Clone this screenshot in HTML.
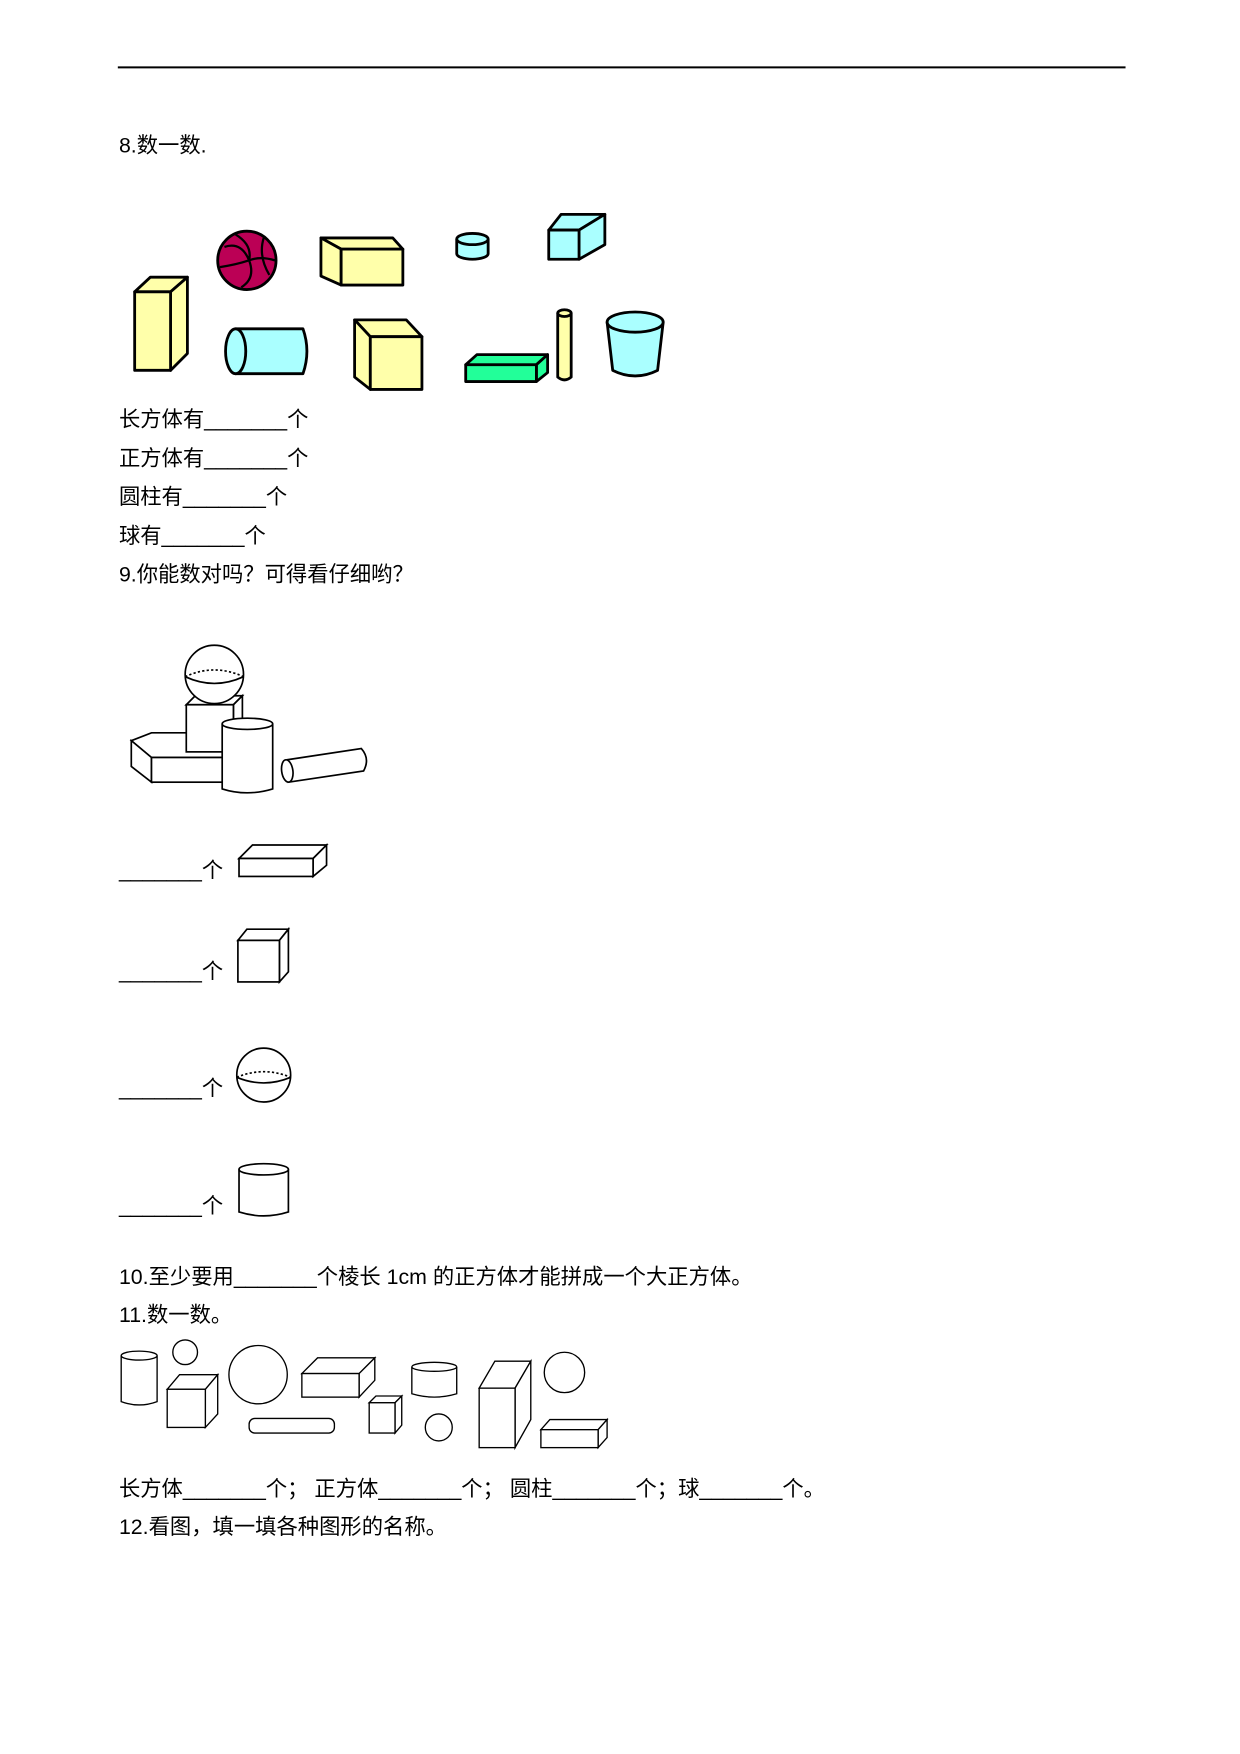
<!DOCTYPE html>
<html><head><meta charset="utf-8"><style>
html,body{margin:0;padding:0;background:#fff;}
svg{display:block;}
text{font-family:"Liberation Sans","Noto Sans CJK SC",sans-serif;font-size:19px;fill:#000;}
</style></head><body>
<svg width="1240" height="1754" viewBox="0 0 1105 1563" xmlns="http://www.w3.org/2000/svg">
<line x1="105" y1="60" x2="1003" y2="60" stroke="#000" stroke-width="1.8"/>
<text x="106" y="136">8.数一数.</text>

<g stroke="#000" stroke-width="2.5" stroke-linejoin="round">
<polygon points="120,260 134,247 167,247 152,260" fill="#ffffaa"/>
<polygon points="152,260 167,247 167,315 152,330" fill="#ffffaa"/>
<rect x="120" y="260" width="32" height="70" fill="#ffffaa"/>
<circle cx="220" cy="232" r="26" fill="#bb0055"/>
<g fill="none" stroke-width="2"><path d="M200,220 Q215,215 222,232 Q228,248 215,256"/><path d="M210,209 Q225,218 222,232"/><path d="M235,212 Q230,228 240,245"/><path d="M196,238 Q210,236 222,232 Q232,228 245,232"/></g>
<polygon points="286,212 350,212 359,222 304,222" fill="#ffffaa"/>
<polygon points="286,212 304,222 304,254 286,246" fill="#ffffaa"/>
<rect x="304" y="222" width="55" height="32" fill="#ffffaa"/>
<path d="M407,213 V226 A14,5 0 0 0 435,226 V213" fill="#aaffff"/>
<ellipse cx="421" cy="213" rx="14" ry="5" fill="#aaffff"/>
<polygon points="489,205 500,191 539,191 516,205" fill="#aaffff"/>
<polygon points="516,205 539,191 539,218 516,231" fill="#aaffff"/>
<rect x="489" y="205" width="27" height="26" fill="#aaffff"/>
<path d="M210,293 H270 Q277,313 270,333 H210 Z" fill="#aaffff"/>
<ellipse cx="210" cy="313" rx="9" ry="20" fill="#aaffff"/>
<polygon points="316,285 362,285 376,300 330,300" fill="#ffffaa"/>
<polygon points="316,285 330,300 330,347 316,336" fill="#ffffaa"/>
<rect x="330" y="300" width="46" height="47" fill="#ffffaa"/>
<polygon points="415,325 425,316 488,316 478,325" fill="#22ff99"/>
<polygon points="478,325 488,316 488,332 478,340" fill="#22ff99"/>
<rect x="415" y="325" width="63" height="15" fill="#22ff99"/>
<path d="M497,279 V336 Q503,341 509,336 V279" fill="#ffffaa"/>
<ellipse cx="503" cy="279" rx="6" ry="3" fill="#ffffaa"/>
<path d="M541,287 L546,330 Q566,340 586,330 L591,287" fill="#aaffff"/>
<ellipse cx="566" cy="287" rx="25" ry="9" fill="#aaffff"/>
</g>

<text x="106" y="380">长方体有_______个</text>
<text x="106" y="415">正方体有_______个</text>
<text x="106" y="449">圆柱有_______个</text>
<text x="106" y="484">球有_______个</text>
<text x="106" y="518">9.你能数对吗？可得看仔细哟？</text>

<g stroke="#000" stroke-width="1.5" fill="#fff">
<polygon points="117,660 135,653 200,653 200,675 135,675" />
<polygon points="117,660 135,675 135,697 117,683"/>
<rect x="135" y="675" width="65" height="22"/>
<polygon points="166,628 174,620 216,620 208,628"/>
<polygon points="208,628 216,620 216,660 208,668"/>
<rect x="166" y="628" width="42" height="42"/>
<circle cx="191" cy="601" r="26"/>
<path d="M165,603 Q191,615 217,603" fill="none"/>
<path d="M165,603 Q191,591 217,603" fill="none" stroke-dasharray="2,2"/>
<path d="M198,645 V703 Q220,710 243,703 V645" />
<ellipse cx="220.5" cy="645" rx="22.5" ry="5"/>
<path d="M256,677 L322,667 Q330,676 324,687 L257,697 Z"/>
<ellipse cx="256" cy="687" rx="5" ry="10" transform="rotate(-8 256 687)"/>
</g>

<text x="106" y="782">_______个</text>
<text x="106" y="872">_______个</text>
<text x="106" y="976">_______个</text>
<text x="106" y="1081">_______个</text>
<g stroke="#000" stroke-width="1.5" fill="#fff">
<polygon points="213,765 225,753 291,753 279,765"/>
<polygon points="279,765 291,753 291,771 279,781"/>
<rect x="213" y="765" width="66" height="16"/>
<polygon points="212,838 220,828 257,828 249,838"/>
<polygon points="249,838 257,828 257,866 249,875"/>
<rect x="212" y="838" width="37" height="37"/>
<circle cx="235" cy="958" r="24"/>
<path d="M211,960 Q235,970 259,960" fill="none"/>
<path d="M211,960 Q235,950 259,960" fill="none" stroke-dasharray="2,2"/>
<path d="M213,1042 V1080 Q235,1087 257,1080 V1042"/>
<ellipse cx="235" cy="1042" rx="22" ry="5"/>
</g>

<text x="106" y="1144">10.至少要用_______个棱长 1cm 的正方体才能拼成一个大正方体。</text>
<text x="106" y="1178">11.数一数。</text>

<g stroke="#000" stroke-width="1.2" fill="#fff">
<path d="M108,1208 V1249 Q124,1255 140,1249 V1208"/><ellipse cx="124" cy="1208" rx="16" ry="4"/>
<circle cx="165" cy="1205" r="11"/>
<polygon points="149,1238 160,1225 194,1225 183,1238"/><polygon points="183,1238 194,1225 194,1260 183,1272"/><rect x="149" y="1238" width="34" height="34"/>
<circle cx="230" cy="1225" r="26"/>
<polygon points="269,1224 283,1210 334,1210 320,1224"/><polygon points="320,1224 334,1210 334,1230 320,1245"/><rect x="269" y="1224" width="51" height="21"/>
<rect x="222" y="1264" width="76" height="13" rx="5"/>
<polygon points="329,1250 335,1244 358,1244 352,1250"/><polygon points="352,1250 358,1244 358,1270 352,1277"/><rect x="329" y="1250" width="23" height="27"/>
<path d="M367,1218 V1242 Q387,1248 407,1242 V1218"/><ellipse cx="387" cy="1218" rx="20" ry="4"/>
<circle cx="391" cy="1272" r="12"/>
<polygon points="427,1237 441,1213 473,1213 459,1237"/><polygon points="459,1237 473,1213 473,1265 459,1290"/><rect x="427" y="1237" width="32" height="53"/>
<circle cx="503" cy="1223" r="18"/>
<polygon points="482,1274 490,1265 541,1265 533,1274"/><polygon points="533,1274 541,1265 541,1281 533,1290"/><rect x="482" y="1274" width="51" height="16"/>
</g>

<text x="106" y="1333">长方体_______个； 正方体_______个； 圆柱_______个；球_______个。</text>
<text x="106" y="1367">12.看图，填一填各种图形的名称。</text>
</svg>
</body></html>
